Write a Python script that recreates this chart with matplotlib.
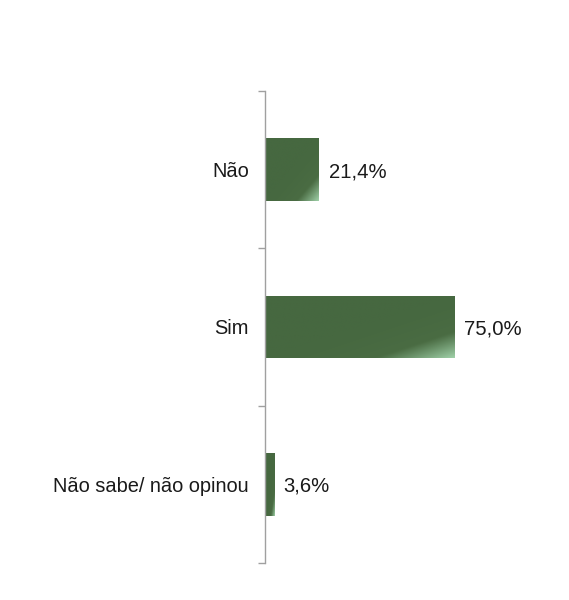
import numpy as np
import matplotlib
matplotlib.use('Agg')
from matplotlib import pyplot as plt
from matplotlib.colors import LinearSegmentedColormap
from matplotlib.patches import Rectangle

# data
categories = ['Não', 'Sim', 'Não sabe/ não opinou']
values = [21.4, 75.0, 3.6]
value_labels = ['21,4%', '75,0%', '3,6%']

plt.rcParams['font.family'] = ['Liberation Sans', 'DejaVu Sans']

fig = plt.figure(figsize=(5.69, 6.0), dpi=100)
ax = fig.add_axes([0.4657, 0.0617, 0.443, 0.7867])

pos = np.arange(len(categories))
bh = 0.4
cmap = LinearSegmentedColormap.from_list('grn', ['#466840', '#4a6c43', '#9fd0a8'])

# gradient image, lighter toward the bottom right corner
# (row 0 = top of the bar on screen, y axis is inverted)
u, v = np.meshgrid(np.linspace(0, 1, 200), np.linspace(0, 1, 100))
grad = np.clip((u + v - 1.0) / 1.0, 0, 1) ** 1.3

bars = ax.barh(pos, values, height=bh, color='none', edgecolor='none')
for b in bars:
    x0, y0 = b.get_x(), b.get_y()
    w, h = b.get_width(), b.get_height()
    im = ax.imshow(grad, cmap=cmap, vmin=0, vmax=1, aspect='auto',
                   extent=[x0, x0 + w, y0, y0 + h], origin='lower',
                   interpolation='bilinear', zorder=2)
    clip = Rectangle((x0, y0), w, h, transform=ax.transData)
    im.set_clip_path(clip)

for p, val, lab in zip(pos, values, value_labels):
    ax.annotate(lab, (val, p), xytext=(7, -1.5), textcoords='offset points',
                va='center', ha='left', fontsize=14.6, color='#1a1a1a')

ax.set_xlim(0, 100)
ax.set_ylim(len(categories) - 0.5, -0.5)

ax.set_yticks(pos)
ax.set_yticklabels(categories, fontsize=14.4, color='#1a1a1a')
ax.tick_params(axis='y', which='major', length=0, pad=11.5)
ax.set_yticks(np.arange(-0.5, len(categories), 1.0), minor=True)
ax.tick_params(axis='y', which='minor', length=5, width=1, color='#a0a0a0', direction='out')
ax.set_xticks([])

for s in ['top', 'right', 'bottom']:
    ax.spines[s].set_visible(False)
ax.spines['left'].set_color('#a0a0a0')
ax.spines['left'].set_linewidth(1)

fig.savefig('out.png', dpi=100)
